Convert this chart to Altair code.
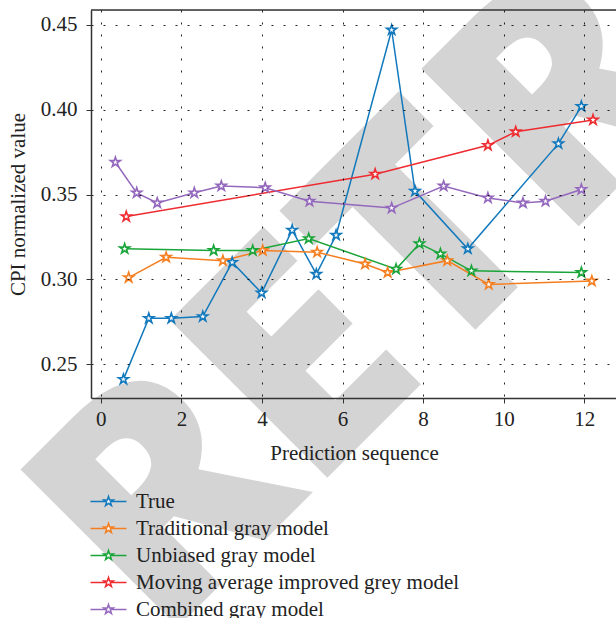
import altair as alt
import pandas as pd

series_names = ["True", "Traditional gray model", "Unbiased gray model",
                "Moving average improved grey model", "Combined gray model"]
colors = ["#1279bd", "#f57f20", "#1aa53a", "#ee2b30", "#9468bd"]

true_x = [0.56, 1.19, 1.75, 2.53, 3.26, 3.99, 4.75, 5.35, 5.84, 7.22, 7.80, 9.11, 11.36, 11.93]
true_y = [0.241, 0.277, 0.277, 0.278, 0.310, 0.292, 0.329, 0.303, 0.326, 0.447, 0.352, 0.318, 0.380, 0.402]

trad_x = [0.69, 1.62, 3.03, 4.02, 5.37, 6.56, 7.12, 8.60, 9.63, 12.19]
trad_y = [0.301, 0.313, 0.311, 0.317, 0.316, 0.309, 0.304, 0.311, 0.297, 0.299]

unb_x = [0.59, 2.80, 3.77, 5.16, 7.33, 7.91, 8.43, 9.20, 11.93]
unb_y = [0.318, 0.317, 0.317, 0.324, 0.306, 0.321, 0.315, 0.305, 0.304]

mov_x = [0.63, 6.81, 9.61, 10.30, 12.22]
mov_y = [0.337, 0.362, 0.379, 0.387, 0.394]

comb_x = [0.36, 0.89, 1.40, 2.32, 2.99, 4.08, 5.18, 7.22, 8.51, 9.61, 10.48, 11.04, 11.93]
comb_y = [0.369, 0.351, 0.345, 0.351, 0.355, 0.354, 0.346, 0.342, 0.355, 0.348, 0.345, 0.346, 0.353]

x_ticks = [0, 2, 4, 6, 8, 10, 12]
y_ticks = [0.25, 0.30, 0.35, 0.40, 0.45]
watermark = ["RETRACTED"]

rows = []
for name, xs, ys in zip(series_names,
                        [true_x, trad_x, unb_x, mov_x, comb_x],
                        [true_y, trad_y, unb_y, mov_y, comb_y]):
    for i, (a, b) in enumerate(zip(xs, ys)):
        rows.append({"series": name, "x": a, "y": b, "i": i})
df = pd.DataFrame(rows)

star = ("M0,-1L0.2245,-0.309L0.951,-0.309L0.3633,0.118L0.588,0.809L0,0.382"
        "L-0.588,0.809L-0.3633,0.118L-0.951,-0.309L-0.2245,-0.309Z")
legend_sym = "M-3.6,0L-0.53,0M0.53,0L3.6,0" + star

SERIF = "Liberation Serif, Times New Roman, DejaVu Serif, serif"
FS = 21

xs = alt.Scale(domain=[-0.245, 12.79], nice=False, zero=False)
ys = alt.Scale(domain=[0.23, 0.4588], nice=False, zero=False)
cs = alt.Scale(domain=series_names, range=colors)

legend = alt.Legend(title=None, orient="none", legendX=0, legendY=481,
                    symbolType=legend_sym, symbolSize=100,
                    symbolStrokeWidth=1.5, symbolFillColor="white",
                    symbolOffset=7, labelOffset=17,
                    labelFont=SERIF, labelFontSize=FS, labelColor="#222",
                    rowPadding=5, padding=0, labelLimit=500)

base = alt.Chart(df)

lines = base.mark_line(strokeWidth=1.5, clip=True).encode(
    x=alt.X("x:Q", scale=xs,
            axis=alt.Axis(values=x_ticks, title="Prediction sequence", format="d",
                          grid=True, gridDash=[2, 10], gridColor="#000", gridOpacity=0.85,
                          tickSize=5, tickColor="#333", domainColor="#333", domainWidth=1.5,
                          labelFont=SERIF, labelFontSize=FS, labelColor="#222", labelPadding=5,
                          titleFont=SERIF, titleFontSize=FS, titleFontWeight="normal",
                          titleColor="#222", titleX=263, titleY=55, titleBaseline="middle",
                          zindex=1)),
    y=alt.Y("y:Q", scale=ys,
            axis=alt.Axis(values=y_ticks, title="CPI normalized value", format=".2f",
                          grid=True, gridDash=[2, 10], gridColor="#000", gridOpacity=0.85,
                          tickSize=5, tickColor="#333", domainColor="#333", domainWidth=1.5,
                          labelFont=SERIF, labelFontSize=FS, labelColor="#222", labelPadding=9,
                          titleFont=SERIF, titleFontSize=FS, titleFontWeight="normal",
                          titleColor="#222", titleX=-73, titleAngle=270,
                          titleBaseline="middle", titleAlign="center", zindex=1)),
    color=alt.Color("series:N", scale=cs, legend=legend),
    order="i:Q",
)

points = base.mark_point(shape=star, size=110, filled=False, fill="white",
                         fillOpacity=1, strokeWidth=1.6, opacity=1, clip=True).encode(
    x=alt.X("x:Q", scale=xs),
    y=alt.Y("y:Q", scale=ys),
    color=alt.Color("series:N", scale=cs, legend=legend),
)

wm = alt.Chart(pd.DataFrame({"t": watermark})).mark_text(
    font="Open Sans", fontWeight=800, fontSize=312, color="#d4d4d4",
    angle=315, align="left", baseline="alphabetic").encode(
    text="t:N", x=alt.value(70), y=alt.value(634))

top = alt.Chart(pd.DataFrame({"a": [0]})).mark_rule(color="#333", strokeWidth=1.5).encode(
    x=alt.value(0), x2=alt.value(525), y=alt.value(0))

chart = alt.layer(wm, lines, points, top).properties(
    width=525, height=388,
    autosize=alt.AutoSizeParams(type="none"),
    padding={"left": 91, "top": 10, "right": 0, "bottom": 220},
).configure_view(strokeWidth=0).configure(background="white")

chart.save("out.html", embed_options={"renderer": "svg", "actions": False})
